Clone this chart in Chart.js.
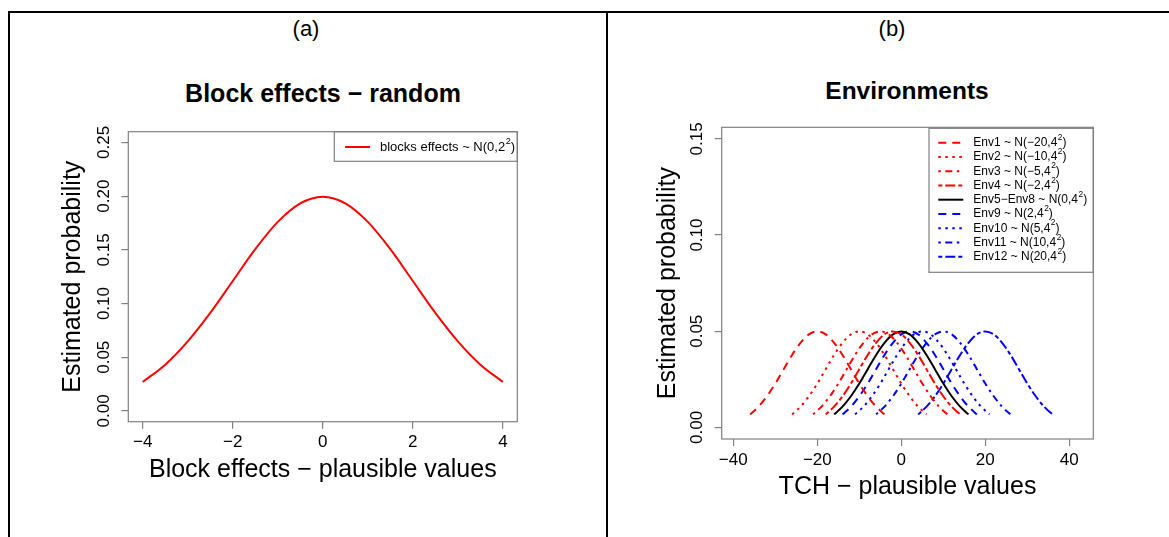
<!DOCTYPE html>
<html>
<head>
<meta charset="utf-8">
<script src="https://cdn.jsdelivr.net/npm/chart.js@4.4.1/dist/chart.umd.min.js"></script>
<style>
  html, body { margin: 0; padding: 0; background: #fff; }
  body { width: 1169px; height: 537px; position: relative; overflow: hidden; font-family: "Liberation Sans", Arial, sans-serif; }
  canvas { position: absolute; left: 0; top: 0; }
  .rule { position: absolute; background: #000; }
  .label { position: absolute; transform: translate(-50%, -50%); white-space: nowrap; color: #000; }
</style>
</head>
<body>
<div class="rule" style="left:8px;top:11px;width:1161px;height:2px"></div>
<div class="rule" style="left:8px;top:11px;width:2px;height:526px"></div>
<div class="rule" style="left:606px;top:11px;width:2px;height:526px"></div>
<div class="label" style="left:306px;top:29px;font-size:22px">(a)</div>
<div class="label" style="left:892px;top:29px;font-size:22px">(b)</div>
<div class="label" style="left:323px;top:93px;font-size:25px;font-weight:bold">Block effects − random</div>
<div class="label" style="left:907px;top:91px;font-size:24.5px;font-weight:bold">Environments</div>
<canvas id="chartA" width="1169" height="537"></canvas>
<canvas id="chartB" width="1169" height="537"></canvas>
<script>
// panel (a): block effects
const blockX = [-4, -3.5, -3, -2.5, -2, -1.5, -1, -0.5, 0, 0.5, 1, 1.5, 2, 2.5, 3, 3.5, 4];
const blockDensity = [0.0270, 0.0431, 0.0648, 0.0913, 0.1210, 0.1506, 0.1760, 0.1933, 0.1995,
  0.1933, 0.1760, 0.1506, 0.1210, 0.0913, 0.0648, 0.0431, 0.0270];
const blockLabel = 'blocks effects ~ N(0,2^2)';
const blockXTicks = [-4, -2, 0, 2, 4];
const blockYTicks = [0, 0.05, 0.10, 0.15, 0.20, 0.25];

// panel (b): environments (same curve shape, shifted to each mean)
const envLabels = [
  'Env1 ~ N(\u221220,4^2)', 'Env2 ~ N(\u221210,4^2)', 'Env3 ~ N(\u22125,4^2)', 'Env4 ~ N(\u22122,4^2)',
  'Env5\u2212Env8 ~ N(0,4^2)', 'Env9 ~ N(2,4^2)', 'Env10 ~ N(5,4^2)', 'Env11 ~ N(10,4^2)', 'Env12 ~ N(20,4^2)'
];
const envMeans = [-20, -10, -5, -2, 0, 2, 5, 10, 20];
const envOffsets = [-16, -14, -12, -10, -8, -6, -4, -2, 0, 2, 4, 6, 8, 10, 12, 14, 16];
const envDensity = [0.0068, 0.0108, 0.0162, 0.0228, 0.0303, 0.0377, 0.0440, 0.0484, 0.0499,
  0.0484, 0.0440, 0.0377, 0.0303, 0.0228, 0.0162, 0.0108, 0.0068];
const envXTicks = [-40, -20, 0, 20, 40];
const envYTicks = [0, 0.05, 0.10, 0.15];

const FONT = '"Liberation Sans", Arial, sans-serif';
const GREY = '#808080';
const RED = '#ff0000', BLUE = '#0000ff', BLACK = '#000000';
const envColors = [RED, RED, RED, RED, BLACK, BLUE, BLUE, BLUE, BLUE];
const dashes = {
  solid: [],
  dashed: [8, 6],
  dotted: [2.5, 4.5],
  dotdash: [2.5, 4.5, 7, 4.5],
  twodash: [4, 3, 10, 3]
};
const envLty = ['dashed', 'dotted', 'dotdash', 'twodash', 'solid', 'dashed', 'dotted', 'dotdash', 'twodash'];

const minus = (s) => String(s).replace('-', '\u2212');

function drawSupText(ctx, text, x, y, size) {
  const [before, after] = text.split('^2');
  ctx.font = `${size}px ${FONT}`;
  ctx.fillText(before, x, y);
  x += ctx.measureText(before).width;
  ctx.font = `${size * 0.7}px ${FONT}`;
  ctx.fillText('2', x + 0.5, y - size * 0.42);
  x += ctx.measureText('2').width + 0.5;
  ctx.font = `${size}px ${FONT}`;
  ctx.fillText(after || '', x, y);
}

// R-like frame, rotated y labels and boxed legend
const rStyle = {
  id: 'rStyle',
  beforeDatasetsDraw(chart) {
    const { ctx, chartArea: a } = chart;
    ctx.save();
    ctx.strokeStyle = GREY;
    ctx.lineWidth = 1.2;
    ctx.strokeRect(a.left, a.top, a.right - a.left, a.bottom - a.top);
    ctx.restore();
  },
  afterDraw(chart, args, opts) {
    const { ctx, chartArea: a } = chart;
    const ys = chart.scales.y;
    ctx.save();
    ctx.fillStyle = '#000';
    ctx.font = `17px ${FONT}`;
    ctx.textAlign = 'center';
    ctx.textBaseline = 'middle';
    ys.ticks.forEach((t) => {
      ctx.save();
      ctx.translate(a.left - opts.yLabelGap, ys.getPixelForValue(t.value));
      ctx.rotate(-Math.PI / 2);
      ctx.fillText(t.value.toFixed(2), 0, 0);
      ctx.restore();
    });

    const lg = opts.legend;
    const left = a.right - lg.width;
    const top = a.top + lg.dy;
    ctx.strokeStyle = GREY;
    ctx.lineWidth = 1.2;
    ctx.strokeRect(left, top, lg.width, lg.height);
    ctx.textAlign = 'left';
    chart.data.datasets.forEach((ds, i) => {
      const y = top + lg.firstRow + i * lg.rowGap;
      ctx.strokeStyle = ds.borderColor;
      ctx.lineWidth = ds.borderWidth;
      ctx.setLineDash(ds.borderDash || []);
      ctx.beginPath();
      ctx.moveTo(left + lg.lineStart, y);
      ctx.lineTo(left + lg.lineEnd, y);
      ctx.stroke();
      ctx.setLineDash([]);
      ctx.fillStyle = '#000';
      drawSupText(ctx, ds.label, left + lg.textStart, y, lg.fontSize);
    });
    ctx.restore();
  }
};

function makeChart(id, datasets, cfg) {
  return new Chart(document.getElementById(id), {
    type: 'line',
    data: { datasets },
    plugins: [rStyle],
    options: {
      responsive: false,
      animation: false,
      events: [],
      layout: { padding: cfg.padding },
      elements: { point: { radius: 0 }, line: { borderWidth: 2, cubicInterpolationMode: 'monotone', fill: false } },
      scales: {
        x: {
          type: 'linear',
          min: cfg.xMin,
          max: cfg.xMax,
          afterBuildTicks: (s) => { s.ticks = cfg.xTicks.map((value) => ({ value })); },
          afterFit: (s) => { s.height = 90; },
          grid: { drawOnChartArea: false, drawTicks: true, tickLength: 7, color: GREY, lineWidth: 1.2 },
          border: { display: false },
          ticks: { color: '#000', font: { family: FONT, size: 17 }, padding: 3.7, maxRotation: 0, callback: (v) => minus(v) },
          title: { display: true, text: cfg.xTitle, color: '#000', font: { family: FONT, size: 25 }, padding: { top: 0, bottom: cfg.xTitlePad } }
        },
        y: {
          type: 'linear',
          min: cfg.yMin,
          max: cfg.yMax,
          afterBuildTicks: (s) => { s.ticks = cfg.yTicks.map((value) => ({ value })); },
          afterFit: (s) => { s.width = 80; },
          grid: { drawOnChartArea: false, drawTicks: true, tickLength: 7, color: GREY, lineWidth: 1.2 },
          border: { display: false },
          ticks: { display: false },
          title: { display: true, text: 'Estimated probability', color: '#000', font: { family: FONT, size: 25 }, padding: { top: cfg.yTitlePad, bottom: 0 } }
        }
      },
      plugins: {
        legend: { display: false },
        tooltip: { enabled: false },
        rStyle: { yLabelGap: 24, legend: cfg.legend }
      }
    }
  });
}

makeChart('chartA', [{
  label: blockLabel,
  data: blockX.map((x, i) => ({ x, y: blockDensity[i] })),
  borderColor: RED,
  borderWidth: 2,
  borderDash: []
}], {
  padding: { left: 48.3, top: 131.7, right: 651.7, bottom: 25.3 },
  xMin: -4.32, xMax: 4.32, yMin: -0.01, yMax: 0.26,
  xTicks: blockXTicks, yTicks: blockYTicks,
  xTitle: 'Block effects \u2212 plausible values', xTitlePad: 26.7, yTitlePad: 10,
  legend: { width: 183, height: 29.6, dy: 0, firstRow: 15.3, rowGap: 0, lineStart: 10.7, lineEnd: 35.7, textStart: 45.7, fontSize: 13 }
});

makeChart('chartB', envMeans.map((m, k) => ({
  label: envLabels[k],
  data: envOffsets.map((o, i) => ({ x: m + o, y: envDensity[i] })),
  borderColor: envColors[k],
  borderWidth: 2,
  borderDash: dashes[envLty[k]]
})), {
  padding: { left: 641.7, top: 127.3, right: 75.7, bottom: 8 },
  xMin: -42.76, xMax: 45.71, yMin: -0.006, yMax: 0.156,
  xTicks: envXTicks, yTicks: envYTicks,
  xTitle: 'TCH \u2212 plausible values', xTitlePad: 27.3, yTitlePad: 11.3,
  legend: { width: 164.3, height: 144, dy: 1, firstRow: 14.4, rowGap: 14.25, lineStart: 9.3, lineEnd: 34.3, textStart: 44.3, fontSize: 12 }
});
</script>
</body>
</html>
